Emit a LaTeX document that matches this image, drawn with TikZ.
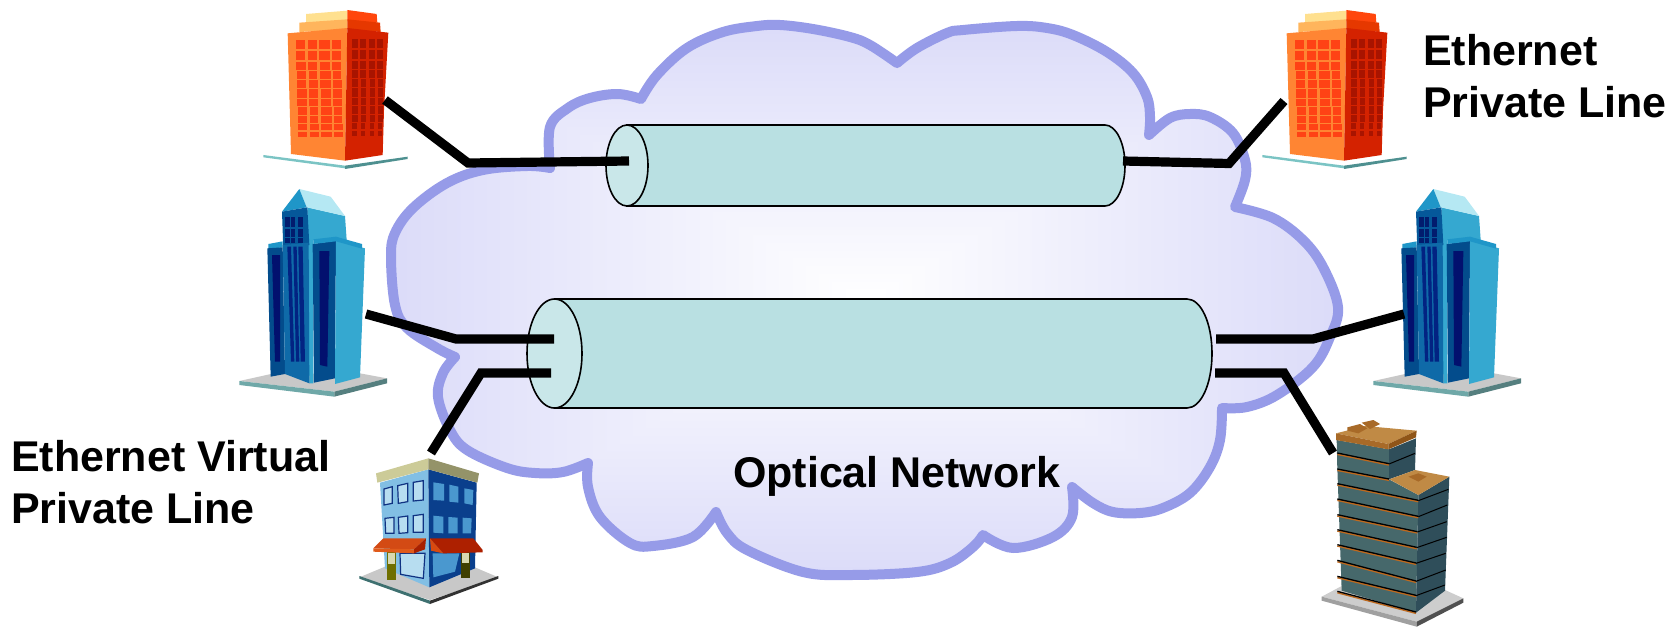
\documentclass[tikz,border=0pt]{standalone}
\usepackage{fontspec}
\setmainfont{Liberation Sans}
\definecolor{cloudline}{HTML}{969BE8}
\definecolor{cylbody}{HTML}{B9E0E2}
\definecolor{cylcap}{HTML}{C9E7E9}
\pgfdeclarefunctionalshading{cloudfade}{\pgfpoint{-50bp}{-50bp}}{\pgfpoint{50bp}{50bp}}{}{
  abs exch abs 2 copy gt {pop} {exch pop} ifelse
  25 div
  dup 0.14 mul 1 exch sub exch
  dup 0.14 mul 1 exch sub exch
  0.025 mul 1 exch sub
}
\tikzset{
  lbl/.style={font=\bfseries\fontsize{43}{51.5}\selectfont,text=black,inner sep=0pt,outer sep=0pt,align=left},
  pipebody/.style={fill=cylbody,draw=black,line width=1.6pt},
  pipecap/.style={fill=cylcap,draw=black,line width=1.6pt},
  wire/.style={draw=black,line width=9.2pt,line join=miter,line cap=butt},
  zoomed/.style={scale=1/3},
}
% --- building drawings, coordinates in 3x zoomed pixels ---
\newcommand{\orangebldg}{%
  \fill[color={rgb,255:red,123;green,196;blue,196}] (100,465)--(345,497)--(345,505)--(100,472)--cycle;
  \fill[color={rgb,255:red,78;green,144;blue,144}] (345,497)--(533,470)--(533,477)--(345,507)--cycle;
  \fill[color={rgb,255:red,255;green,224;blue,143}] (228,42)--(352,32)--(352,66)--(228,68)--cycle;
  \fill[color={rgb,255:red,255;green,70;blue,12}] (352,30)--(440,42)--(442,68)--(352,62)--cycle;
  \fill[color={rgb,255:red,255;green,181;blue,92}] (208,68)--(352,58)--(352,88)--(208,96)--cycle;
  \fill[color={rgb,255:red,230;green,56;blue,0}] (352,58)--(450,68)--(452,96)--(352,88)--cycle;
  \fill[color={rgb,255:red,255;green,133;blue,51}] (173,100)--(352,84)--(345,482)--(183,462)--cycle;
  \fill[color={rgb,255:red,212;green,34;blue,0}] (352,84)--(475,98)--(462,330)--(458,465)--(345,482)--cycle;
  \foreach \y/\h/\d in {120/28/0,152/27/0,185/24/1,212/24/2,240/24/3,268/25/4,297/22/4,322/22/5,347/22/5,373/18/6,397/15/6}{
    \foreach \x/\w in {198/28,234/26,268/32,306/26}{
      \fill[color={rgb,255:red,255;green,66;blue,21}] (\x+\d,\y) rectangle (\x+\d+\w,\y+\h);
    }
    \foreach \x/\w in {365/18,391/16,418/16,442/16}{
      \fill[color={rgb,255:red,168;green,20;blue,0}] (\x+\d*0.2,\y-3) rectangle (\x+\d*0.2+\w-\d*0.3,\y+\h-3);
    }
  }
}
\newcommand{\bluebldg}{%
  \fill[color={rgb,255:red,200;green,200;blue,200}] (88,633)--(183,612)--(450,610)--(531,625)--(373,665)--cycle;
  \fill[color={rgb,255:red,111;green,168;blue,168}] (88,633)--(373,665)--(373,680)--(88,645)--cycle;
  \fill[color={rgb,255:red,85;green,127;blue,127}] (373,665)--(531,625)--(531,640)--(373,680)--cycle;
  \fill[color={rgb,255:red,53;green,168;blue,208}] (292,112)--(405,138)--(410,210)--(310,210)--(310,640)--(298,640)--cycle;
  \fill[color={rgb,255:red,181;green,232;blue,243}] (268,57)--(362,80)--(405,138)--(290,112)--cycle;
  \fill[color={rgb,255:red,31;green,150;blue,200}] (268,57)--(290,112)--(216,125)--cycle;
  \fill[color={rgb,255:red,5;green,88;blue,154}] (216,125)--(292,112)--(298,225)--(220,240)--cycle;
  \fill[color={rgb,255:red,31;green,150;blue,200}] (175,222)--(218,214)--(218,232)--(175,238)--cycle;
  \fill[color={rgb,255:red,3;green,76;blue,140}] (172,235)--(218,232)--(225,612)--(182,620)--cycle;
  \fill[color={rgb,255:red,2;green,16;blue,110}] (186,255)--(210,255)--(210,575)--(195,575)--cycle;
  \fill[color={rgb,255:red,15;green,106;blue,168}] (218,225)--(296,218)--(298,640)--(225,612)--cycle;
  \foreach \xa/\xb/\xc/\xd in {232/243/243/253,250/260/258/268,265/278/272/285}{
    \fill[color={rgb,255:red,2;green,35;blue,130}] (\xa,230)--(\xb,230)--(\xd,575)--(\xc,575)--cycle;
  }
  \foreach \y/\h in {140/30,176/26,205/15}{
    \foreach \x/\w in {226/13,243/13,265/13}{
      \fill[color={rgb,255:red,2;green,28;blue,110}] (\x,\y) rectangle (\x+\w,\y+\h);
    }
  }
  \fill[color={rgb,255:red,3;green,76;blue,140}] (308,222)--(378,212)--(375,625)--(312,638)--cycle;
  \fill[color={rgb,255:red,2;green,16;blue,110}] (328,243)--(358,243)--(352,590)--(330,585)--cycle;
  \fill[color={rgb,255:red,53;green,168;blue,208}] (378,212)--(465,235)--(450,622)--(375,642)--cycle;
  \fill[color={rgb,255:red,31;green,150;blue,200}] (310,208)--(378,200)--(456,222)--(456,236)--(378,214)--(310,222)--cycle;
}
\newcommand{\officebldg}{%
  \fill[color={rgb,255:red,200;green,200;blue,200}] (88,472)--(165,440)--(430,440)--(505,472)--(300,540)--cycle;
  \fill[color={rgb,255:red,62;green,112;blue,112}] (88,468)--(300,542)--(300,552)--(88,476)--cycle;
  \fill[color={rgb,255:red,50;green,50;blue,50}] (300,542)--(505,468)--(505,476)--(300,552)--cycle;
  \fill[color={rgb,255:red,130;green,191;blue,228}] (150,188)--(295,148)--(298,502)--(165,445)--cycle;
  \fill[color={rgb,255:red,10;green,63;blue,140}] (295,148)--(440,188)--(435,445)--(298,502)--cycle;
  \fill[color={rgb,255:red,204;green,203;blue,152}] (138,160)--(295,115)--(295,148)--(142,188)--cycle;
  \fill[color={rgb,255:red,148;green,147;blue,105}] (295,115)--(447,160)--(442,188)--(295,148)--cycle;
  \foreach \p in {
    {(162,207)--(187,200)--(187,250)--(162,255)},
    {(203,197)--(233,190)--(233,245)--(205,250)},
    {(250,187)--(280,182)--(280,240)--(250,243)},
    {(165,295)--(192,292)--(192,340)--(167,340)},
    {(205,292)--(233,288)--(233,338)--(207,340)},
    {(250,287)--(280,283)--(280,337)--(250,337)},
    {(210,400)--(285,400)--(280,475)--(212,463)}}{
    \filldraw[fill={rgb,255:red,183;green,221;blue,240},draw={rgb,255:red,15;green,50;blue,130},line width=1.2pt] \p --cycle;
  }
  \foreach \p in {
    {(310,187)--(342,192)--(342,242)--(310,240)},
    {(358,194)--(385,200)--(385,248)--(358,245)},
    {(403,205)--(430,210)--(428,255)--(403,250)},
    {(310,287)--(340,290)--(340,340)--(310,338)},
    {(355,291)--(383,293)--(383,340)--(355,340)},
    {(398,293)--(425,295)--(423,340)--(398,340)},
    {(308,400)--(388,400)--(375,455)--(310,472)}}{
    \fill[color={rgb,255:red,74;green,152;blue,207}] \p --cycle;
  }
  \fill[color={rgb,255:red,111;green,111;blue,0}] (170,397) rectangle (198,480);
  \fill[color={rgb,255:red,216;green,216;blue,176}] (173,400) rectangle (195,432);
  \fill[color={rgb,255:red,63;green,63;blue,0}] (392,397) rectangle (420,475);
  \fill[color={rgb,255:red,216;green,216;blue,176}] (397,400) rectangle (417,430);
  \fill[color={rgb,255:red,211;green,74;blue,20}] (160,355)--(288,355)--(252,388)--(130,385)--cycle;
  \fill[color={rgb,255:red,224;green,90;blue,26}] (130,385)--(252,388)--(252,400)--(130,395)--cycle;
  \fill[color={rgb,255:red,168;green,32;blue,0}] (288,355)--(285,388)--(252,400)--(252,388)--cycle;
  \fill[color={rgb,255:red,173;green,32;blue,0}] (300,355)--(430,355)--(458,390)--(458,397)--(340,400)--cycle;
  \fill[color={rgb,255:red,216;green,74;blue,16}] (300,355)--(340,400)--(303,392)--cycle;
}
\newcommand{\darkbldg}{%
  \fill[color={rgb,255:red,205;green,205;blue,205}] (95,530)--(155,498)--(465,510)--(520,535)--(380,605)--cycle;
  \fill[color={rgb,255:red,160;green,160;blue,160}] (95,530)--(380,605)--(380,620)--(95,542)--cycle;
  \fill[color={rgb,255:red,80;green,80;blue,80}] (380,605)--(520,535)--(520,548)--(380,620)--cycle;
  % lower block
  \fill[color={rgb,255:red,70;green,104;blue,107}] (142,145)--(297,178)--(385,225)--(378,578)--(155,512)--cycle;
  \fill[color={rgb,255:red,47;green,78;blue,90}] (385,225)--(478,170)--(465,512)--(378,578)--cycle;
  % upper block
  \fill[color={rgb,255:red,70;green,104;blue,107}] (140,60)--(297,88)--(297,178)--(142,150)--cycle;
  \fill[color={rgb,255:red,47;green,78;blue,90}] (297,88)--(378,55)--(375,150)--(297,178)--cycle;
  % lower roof
  \fill[color={rgb,255:red,192;green,138;blue,69}] (298,178)--(375,150)--(478,170)--(385,225)--cycle;
  \fill[color={rgb,255:red,168;green,106;blue,40}] (355,170)--(385,160)--(410,170)--(385,185)--cycle;
  % floors
  \foreach \ya/\xb/\yb in {100/297/132,148/297/178,192/385/242,238/385/290,285/382/336,330/380/383,375/378/430,422/378/484,470/378/527,515/378/577}{
    \draw[color={rgb,255:red,190;green,105;blue,30},line width=1.5pt] (142,\ya+3)--(\xb,\yb+3);
    \draw[color=black,line width=1.3pt] (142,\ya-1)--(\xb,\yb-1);
  }
  \foreach \xa/\ya/\xb/\yb in {297/132/375/100,385/242/475/208,385/290/472/255,382/336/470/305,380/383/470/352,378/430/467/400,378/484/467/450,378/527/465/495}{
    \draw[color=black,line width=1pt] (\xa,\ya)--(\xb,\yb);
  }
  % upper roof
  \fill[color={rgb,255:red,192;green,138;blue,69}] (138,40)--(225,18)--(380,32)--(295,72)--cycle;
  \fill[color={rgb,255:red,168;green,106;blue,40}] (138,40)--(295,72)--(295,88)--(138,60)--cycle;
  \fill[color={rgb,255:red,143;green,85;blue,24}] (295,72)--(380,32)--(378,52)--(295,88)--cycle;
  \fill[color={rgb,255:red,168;green,106;blue,40}] (172,22)--(210,12)--(232,25)--(205,40)--(172,32)--cycle;
  \fill[color={rgb,255:red,168;green,106;blue,40}] (215,8)--(250,0)--(270,12)--(240,27)--cycle;
}
\begin{document}
\begin{tikzpicture}[x=1pt,y=-1pt]
\useasboundingbox (0,0) rectangle (1677,626);
% cloud
\path[shade,shading=cloudfade,draw=cloudline,line width=10pt,line join=round]
  plot[smooth,tension=0.6] coordinates {(550,168)(550,127)(568,108)(590,98)(618,94)(641,99)}
  -- plot[smooth,tension=0.6] coordinates {(641,99)(657,75)(687,48)(723,32)(757,26)(780,25)(813,29)(850,37)(870,45)(897,63)}
  -- plot[smooth,tension=0.6] coordinates {(897,63)(917,48)(947,33)(963,30)(1017,26)(1047,28)(1073,35)(1107,52)(1133,73)(1147,97)(1150,117)(1149,135)}
  -- plot[smooth,tension=0.6] coordinates {(1149,135)(1170,118)(1190,114)(1210,117)(1233,133)(1245,160)(1245,180)(1235,207)}
  -- plot[smooth,tension=0.6] coordinates {(1235,207)(1273,218)(1303,240)(1323,267)(1338,307)(1330,337)(1313,367)(1277,395)(1247,407)(1222,408)}
  -- plot[smooth,tension=0.6] coordinates {(1222,408)(1220,440)(1210,467)(1190,493)(1163,508)(1140,513)(1113,512)(1093,503)(1072,487)}
  -- plot[smooth,tension=0.6] coordinates {(1072,487)(1072,517)(1053,537)(1013,548)(983,535)}
  -- plot[smooth,tension=0.6] coordinates {(983,535)(973,547)(950,563)(917,572)(850,575)(803,572)(747,550)(727,533)(716,512)}
  -- plot[smooth,tension=0.6] coordinates {(716,512)(693,537)(653,546)(630,543)(600,517)(588,487)(588,463)}
  -- plot[smooth,tension=0.6] coordinates {(588,463)(563,472)(535,473)(507,468)(467,450)(450,430)(438,397)(443,373)(455,357)}
  -- plot[smooth,tension=0.6] coordinates {(455,357)(437,348)(407,328)(395,305)(391,257)(395,233)(413,208)(447,183)(483,170)(527,166)(550,168)}
  -- cycle;
% cylinders: body with rounded far end, then the near end cap
\path[pipebody] (627,125) -- (1105,125) .. controls (1116,125) and (1125,143) .. (1125,165.5)
  .. controls (1125,188) and (1116,206) .. (1105,206) -- (627,206) -- cycle;
\path[pipecap] (627,165.5) ellipse [x radius=21,y radius=40.5];
\path[pipebody] (554.5,299) -- (1187,299) .. controls (1201,299) and (1212,323) .. (1212,353.5)
  .. controls (1212,384) and (1201,408) .. (1187,408) -- (554.5,408) -- cycle;
\path[pipecap] (554.5,353.5) ellipse [x radius=27.5,y radius=54.5];
% buildings
\begin{scope}[shift={(230,0)},zoomed]\orangebldg\end{scope}
\begin{scope}[shift={(1229,0)},zoomed]\orangebldg\end{scope}
\begin{scope}[shift={(210,170)},zoomed]\bluebldg\end{scope}
\begin{scope}[shift={(1344,170)},zoomed]\bluebldg\end{scope}
\begin{scope}[shift={(330,420)},zoomed]\officebldg\end{scope}
\begin{scope}[shift={(1290,420)},zoomed]\darkbldg\end{scope}
% connector ends
\coordinate (orangeL) at (385,100);
\coordinate (bendA) at (468,163);
\coordinate (capA) at (629,161);
\coordinate (endB) at (1123,161);
\coordinate (bendB) at (1229,163.5);
\coordinate (orangeR) at (1284,101);
\coordinate (blueL) at (366,314);
\coordinate (bendC) at (456,339);
\coordinate (capC) at (554,339);
\coordinate (officeT) at (431,453);
\coordinate (bendD) at (481,373);
\coordinate (capD) at (551,373);
\coordinate (endE) at (1216,339);
\coordinate (bendE) at (1313,339);
\coordinate (blueR) at (1404,314);
\coordinate (endF) at (1215,373);
\coordinate (bendF) at (1284,373);
\coordinate (darkT) at (1333,453);
\draw[wire] (orangeL)--(bendA)--(capA);
\draw[wire] (endB)--(bendB)--(orangeR);
\draw[wire] (blueL)--(bendC)--(capC);
\draw[wire] (officeT)--(bendD)--(capD);
\draw[wire] (endE)--(bendE)--(blueR);
\draw[wire] (endF)--(bendF)--(darkT);
% labels
\node[lbl,anchor=base west] (eplLabel) at (1423,117) {Ethernet\\Private Line};
\node[lbl,anchor=base west] (evplLabel) at (11,523) {Ethernet Virtual\\Private Line};
\node[lbl,anchor=base west] (netLabel) at (733,487) {Optical Network};
\end{tikzpicture}
\end{document}
